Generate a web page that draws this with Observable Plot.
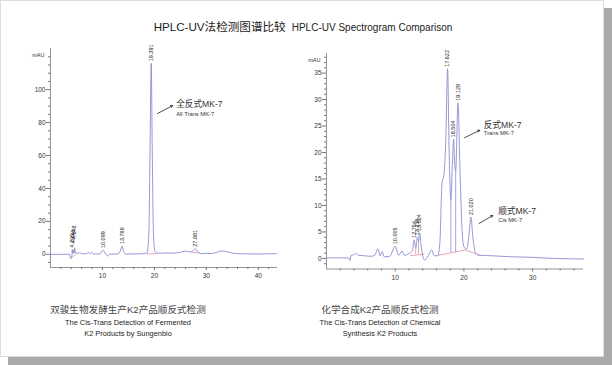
<!DOCTYPE html>
<html>
<head>
<meta charset="utf-8">
<script src="https://cdn.jsdelivr.net/npm/d3@7"></script>
<script src="https://cdn.jsdelivr.net/npm/@observablehq/plot@0.6"></script>
<style>
  html, body { margin: 0; padding: 0; background: #fff; }
  body { width: 612px; height: 365px; position: relative; overflow: hidden;
         font-family: "Liberation Sans", Arial, "Noto Sans CJK SC", sans-serif; color: #222; }
  #card { position: absolute; left: 0; top: 0; width: 604px; height: 357px; box-sizing: border-box;
          background: #fff; border: 1px solid #ddd; box-shadow: 8px 8px 0 #aaa; }
  #title { position: absolute; left: 0; width: 604px; top: 16px; text-align: center; white-space: nowrap; }
  #title .zh { font-family: "Liberation Sans", "Noto Sans CJK SC", sans-serif; font-size: 11.6px; }
  #title .en { font-size: 10px; margin-left: 6px; }
  .chart { position: absolute; }
  .cap { position: absolute; width: 240px; text-align: center; line-height: 11px; }
  .cap .zh { font-family: "Liberation Sans", "Noto Sans CJK SC", sans-serif; font-size: 9.6px; color: #444; margin-bottom: 2px; }
  .cap .en { font-size: 7.4px; color: #222; }
</style>
</head>
<body>
<div id="card">
  <div id="title"><span class="zh">HPLC-UV法检测图谱比较</span><span class="en">HPLC-UV Spectrogram Comparison</span></div>
</div>
<div id="left" class="chart" style="left:0px; top:40px;"></div>
<div id="right" class="chart" style="left:300px; top:40px;"></div>
<div class="cap" style="left:8px; top:304px;">
  <div class="zh">双骏生物发酵生产K2产品顺反式检测</div>
  <div class="en">The Cis-Trans Detection of Fermented</div>
  <div class="en">K2 Products by Sungenbio</div>
</div>
<div class="cap" style="left:260px; top:304px;">
  <div class="zh">化学合成K2产品顺反式检测</div>
  <div class="en">The Cis-Trans Detection of Chemical</div>
  <div class="en">Synthesis K2 Products</div>
</div>
<script>
// ---------- Data: left chromatogram (fermented K2) ----------
const leftTrace = [
  [0,0],[3,0],[3.6,0.1],[3.9,-2.5],[4.1,-1],[4.2,3],[4.35,0.5],[4.45,2.5],[4.55,0.8],[4.65,4],
  [4.8,1],[5.2,0.6],[5.6,0.9],[6,0.3],[7,0.4],[7.3,1.2],[7.6,0.3],[7.9,1.2],[8.2,0.2],[9.5,0.2],
  [10.1,2.6],[10.6,0.2],[11,-1],[11.4,0.1],[13,0.2],[13.5,2.5],[13.77,5],[14.1,1.5],[14.5,0],
  [15,0.2],[17,0.3],[18,0.4],[18.6,1],[18.95,15],[19.15,60],[19.39,116],[19.6,60],[19.8,15],
  [20.1,2],[20.5,0.8],[21.5,0.6],[22,0.9],[23,0.7],[24,0.8],[25,1.2],[26,2.0],[26.8,1.5],
  [27.3,1.8],[27.88,3.4],[28.4,1.2],[29,0.4],[30,0.6],[31,0.5],[32,1.2],[33,2],[34,1.6],
  [35,0.8],[37,0.3],[40,0.2],[43.5,0.4]
];
const leftBaselines = [
  [[3.9,-2.5],[5.0,0.5]],
  [[18.6,0.2],[20.3,0.5]],
  [[27.2,1.0],[28.6,1.0]]
];
const leftPeaks = [
  {t:4.2, v:3, label:"4.205"},
  {t:4.45, v:5.5, label:"4.448"},
  {t:4.65, v:8, label:"4.648"},
  {t:10.099, v:2.6, label:"10.099"},
  {t:13.766, v:5, label:"13.766"},
  {t:19.391, v:116, label:"19.391"},
  {t:27.881, v:3.4, label:"27.881"}
];
const leftNote = {zh:"全反式MK-7", en:"All Trans MK-7", t:24.2, v:90.9, vEn:85.2, from:[20.6,85.5], to:[23.5,90.3]};
const leftMajorY = [0,20,40,60,80,100];
const leftMinorY = [-5,5,10,15,25,30,35,45,50,55,65,70,75,85,90,95,105,110,115,120];
const leftMajorX = [10,20,30,40];
const leftMinorX = [2,4,6,8,12,14,16,18,22,24,26,28,32,34,36,38,42];

// ---------- Data: right chromatogram (chemical synthesis K2) ----------
const rightTrace = [
  [0,0.1],[3.2,0.1],[3.4,-0.4],[3.6,0.6],[4.0,0.7],[4.3,1.0],[4.6,0.6],[5.5,0.5],[6.5,0.4],
  [7.0,0.6],[7.5,1.8],[7.8,0.5],[8.1,1.3],[8.4,0.3],[9.2,0.4],[10.0,2.3],[10.5,0.6],[11,1.4],
  [11.3,0.6],[12,0.9],[12.5,1.5],[12.75,3.5],[13.0,2],[13.24,4],[13.4,3.2],[13.55,4.8],[13.8,2],
  [14.3,-0.3],[14.8,0.5],[15.3,1.6],[15.7,0.5],[16.2,0.5],[16.5,3],[16.8,14],[17.1,16],
  [17.35,22],[17.62,35.8],[17.85,20],[18.1,11],[18.3,17],[18.5,22.5],[18.65,18],[18.8,16.5],
  [19.13,29.4],[19.4,18],[19.7,6],[20.0,2.2],[20.4,1.8],[20.7,4],[21.02,7.8],[21.3,4],[21.7,1],
  [22.2,0.6],[24,0.5],[27,0.3],[30,0.2],[33,0],[37.4,-0.1]
];
const rightBaselines = [
  [[12.2,0.5],[14.2,0.8]],
  [[16.3,0.6],[20.2,1.6]],
  [[20.2,1.6],[22.3,0.6]]
];
const rightPinkDrops = [[12.98,2.1],[13.4,3.2]];
const rightValleyDrops = [[18.1,11],[18.8,16.5]];
const rightPeaks = [
  {t:10.005, v:2.3, label:"10.005"},
  {t:12.754, v:3.5, label:"12.754"},
  {t:13.236, v:4.0, label:"13.236"},
  {t:13.524, v:4.8, label:"13.524"},
  {t:17.622, v:35.8, label:"17.622"},
  {t:18.504, v:22.5, label:"18.504"},
  {t:19.128, v:29.4, label:"19.128"},
  {t:21.020, v:7.8, label:"21.020"}
];
const rightNotes = [
  {zh:"反式MK-7", en:"Trans MK-7", t:22.9, v:25.1, vEn:23.6, from:[20.1,22.8], to:[22.3,24.2]},
  {zh:"顺式MK-7", en:"Cis MK-7", t:25.0, v:8.9, vEn:7.2, from:[22.2,6.6], to:[24.2,8.1]}
];
const rightMajorY = [0,5,10,15,20,25,30,35];
const rightMinorY = [-1,1,2,3,4,6,7,8,9,11,12,13,14,16,17,18,19,21,22,23,24,26,27,28,29,31,32,33,34,36,37,38];
const rightMajorX = [10,20,30];
const rightMinorX = [2,4,6,8,12,14,16,18,22,24,26,28,32,34,36];

const traceColor = "#8b8bd3";
const baseColor = "#e0909e";
const axisColor = "#777";
const textFont = "Liberation Sans, Arial, Noto Sans CJK SC, sans-serif";

function chart(cfg) {
  const marks = [
    Plot.axisY(cfg.minorY, {tickSize: 2, tickFormat: () => "", stroke: axisColor, label: null}),
    Plot.axisY(cfg.majorY, {tickSize: 4, tickPadding: 1, fontSize: 6.5, stroke: axisColor, fill: "#333", label: null}),
    Plot.axisX(cfg.minorX, {tickSize: 2, tickFormat: () => "", stroke: axisColor, label: null}),
    Plot.axisX(cfg.majorX, {tickSize: 3, tickPadding: 3, fontSize: 6.5, stroke: axisColor, fill: "#333", label: null}),
    Plot.ruleX([cfg.xDomain[0]], {stroke: axisColor, strokeWidth: 0.8}),
    Plot.ruleY([cfg.yDomain[0]], {stroke: axisColor, strokeWidth: 0.8}),
    Plot.text(["mAU"], {frameAnchor: "top-left", dx: -6, dy: 5, textAnchor: "end", fontSize: 5.5, fill: "#333"}),
    ...cfg.baselines.map(seg => Plot.line(seg, {x: d => d[0], y: d => d[1], stroke: baseColor, strokeWidth: 0.8})),
    ...(cfg.pinkDrops ? [Plot.ruleX(cfg.pinkDrops, {x: d => d[0], y1: 0.7, y2: d => d[1], stroke: baseColor, strokeWidth: 0.8})] : []),
    ...(cfg.valleyDrops ? [Plot.ruleX(cfg.valleyDrops, {x: d => d[0], y1: 1.1, y2: d => d[1], stroke: traceColor, strokeWidth: 0.8})] : []),
    Plot.line(cfg.trace, {x: d => d[0], y: d => d[1], stroke: traceColor, strokeWidth: 0.9, curve: "monotone-x"}),
    Plot.text(cfg.peaks, {x: "t", y: "v", text: "label", rotate: -90, textAnchor: "start", lineAnchor: "middle",
      dy: -2, fontSize: 5.5, fill: "#222"}),
    Plot.arrow(cfg.notes, {x1: d => d.from[0], y1: d => d.from[1], x2: d => d.to[0], y2: d => d.to[1],
      stroke: "#222", strokeWidth: 0.8, headLength: 4, bend: 0}),
    Plot.text(cfg.notes, {x: "t", y: "v", text: "zh", textAnchor: "start", fontSize: 8.6, fill: "#333",
      fontFamily: textFont}),
    Plot.text(cfg.notes, {x: "t", y: "vEn", text: "en", textAnchor: "start", fontSize: 5.8, fill: "#333"})
  ];
  return Plot.plot({
    width: cfg.width, height: cfg.height,
    marginLeft: cfg.ml, marginRight: cfg.mr, marginTop: cfg.mt, marginBottom: cfg.mb,
    x: {domain: cfg.xDomain, label: null},
    y: {domain: cfg.yDomain, label: null},
    style: {fontFamily: textFont, background: "transparent", overflow: "visible"},
    marks
  });
}

document.getElementById("left").appendChild(chart({
  width: 300, height: 250, ml: 50, mr: 23, mt: 8, mb: 23,
  xDomain: [0, 43.7], yDomain: [-8, 125],
  trace: leftTrace, baselines: leftBaselines, peaks: leftPeaks, notes: [leftNote],
  majorY: leftMajorY, minorY: leftMinorY, majorX: leftMajorX, minorX: leftMinorX
}));

document.getElementById("right").appendChild(chart({
  width: 312, height: 250, ml: 26, mr: 29, mt: 13, mb: 21.5,
  xDomain: [0, 37.4], yDomain: [-2, 38.7],
  trace: rightTrace, baselines: rightBaselines, pinkDrops: rightPinkDrops, valleyDrops: rightValleyDrops,
  peaks: rightPeaks, notes: rightNotes,
  majorY: rightMajorY, minorY: rightMinorY, majorX: rightMajorX, minorX: rightMinorX
}));
</script>
</body>
</html>
